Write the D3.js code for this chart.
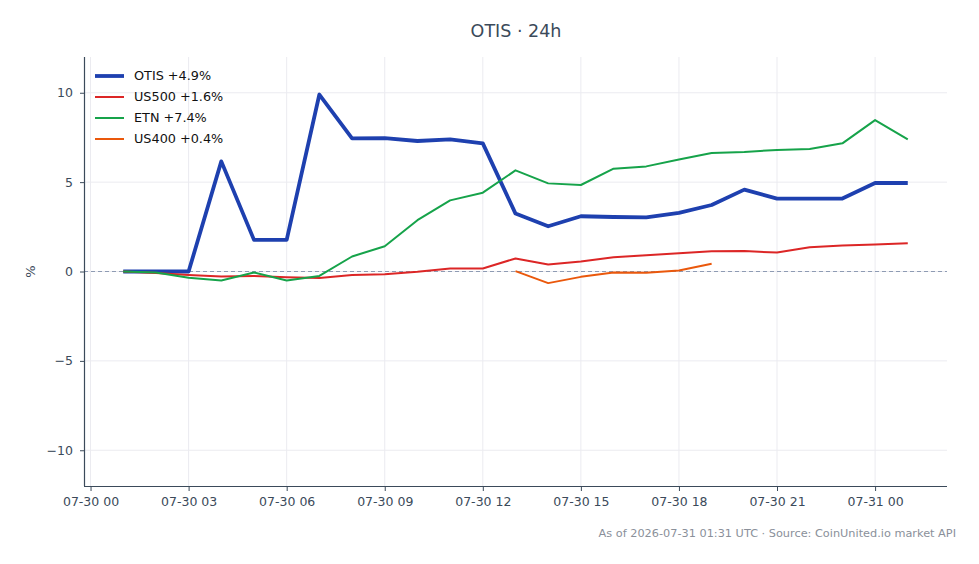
<!DOCTYPE html>
<html>
<head>
<meta charset="utf-8">
<script src="https://cdn.jsdelivr.net/npm/d3@7"></script>
<style>
  body { margin: 0; background: #fff; }
  svg { font-family: "DejaVu Sans", sans-serif; }
</style>
</head>
<body>
<svg id="chart"></svg>
<script>
// hourly points, 07-30 01:00 .. 07-31 01:00 UTC
let times = d3.range(25).map(i => new Date(Date.UTC(2026, 6, 30, 1 + i)));

let otis = [0, 0, 0, 6.16, 1.77, 1.77, 9.9, 7.45, 7.46, 7.3, 7.39, 7.17, 3.24, 2.53, 3.09, 3.05, 3.03, 3.28, 3.72, 4.58, 4.08, 4.08, 4.08, 4.95, 4.95];
let us500 = [0, -0.08, -0.2, -0.28, -0.25, -0.32, -0.36, -0.19, -0.15, -0.02, 0.17, 0.17, 0.73, 0.39, 0.56, 0.8, 0.91, 1.02, 1.13, 1.14, 1.06, 1.36, 1.45, 1.51, 1.58];
let etn = [0, -0.05, -0.35, -0.5, -0.06, -0.5, -0.25, 0.84, 1.41, 2.87, 3.98, 4.41, 5.66, 4.93, 4.84, 5.75, 5.88, 6.26, 6.63, 6.69, 6.8, 6.85, 7.17, 8.47, 7.39];
let us400 = [null, null, null, null, null, null, null, null, null, null, null, null, 0.02, -0.65, -0.3, -0.06, -0.07, 0.06, 0.43, null, null, null, null, null, null];

let seriesNames = ['OTIS +4.9%', 'US500 +1.6%', 'ETN +7.4%', 'US400 +0.4%'];
let seriesColors = ['#1e40af', '#dc2626', '#16a34a', '#ea580c'];
let seriesWidths = [3.8, 2, 2, 2];
let seriesValues = [otis, us500, etn, us400];

let yTicks = [-10, -5, 0, 5, 10];

function renderChart(svg) {
  svg = d3.select(svg).attr('width', 979).attr('height', 564);

  let left = 84, right = 947, top = 57, bottom = 486;
  let pad = 1.2 * 3600 * 1000; // 5% of the 24h span

  let x = d3
    .scaleUtc()
    .domain([+times[0] - pad, +times[times.length - 1] + pad])
    .range([left, right]);
  let y = d3.scaleLinear().domain([-12, 12]).range([bottom, top]);

  let xTicks = x.ticks(d3.utcHour.every(3));
  let axisColor = '#3b4a5a';

  // grid
  let grid = svg.append('g').attr('stroke', '#ebebf0').attr('stroke-width', 1);
  grid
    .selectAll('line.v')
    .data(xTicks)
    .enter()
    .append('line')
    .attr('x1', d => x(d))
    .attr('x2', d => x(d))
    .attr('y1', top)
    .attr('y2', bottom);
  grid
    .selectAll('line.h')
    .data(yTicks)
    .enter()
    .append('line')
    .attr('x1', left)
    .attr('x2', right)
    .attr('y1', d => y(d))
    .attr('y2', d => y(d));

  // zero line
  svg
    .append('line')
    .attr('x1', left)
    .attr('x2', right)
    .attr('y1', y(0))
    .attr('y2', y(0))
    .attr('stroke', '#8e9bb3')
    .attr('stroke-width', 1)
    .attr('stroke-dasharray', '4,3');

  // series
  let line = d3
    .line()
    .defined(d => d.v !== null)
    .x(d => x(d.t))
    .y(d => y(d.v));

  seriesValues.forEach((vals, i) => {
    svg
      .append('path')
      .datum(vals.map((v, j) => ({ t: times[j], v: v })))
      .attr('fill', 'none')
      .attr('stroke', seriesColors[i])
      .attr('stroke-width', seriesWidths[i])
      .attr('stroke-linejoin', 'round')
      .attr('d', line);
  });

  // axes
  let xAxis = svg
    .append('g')
    .attr('transform', 'translate(0,' + bottom + ')')
    .call(
      d3
        .axisBottom(x)
        .tickValues(xTicks)
        .tickFormat(d3.utcFormat('%m-%d %H'))
        .tickSizeOuter(0)
        .tickSize(5)
        .tickPadding(6)
    );
  let yAxis = svg
    .append('g')
    .attr('transform', 'translate(' + left + ',0)')
    .call(
      d3
        .axisLeft(y)
        .tickValues(yTicks)
        .tickFormat(d => (d < 0 ? '\u2212' + Math.abs(d) : d))
        .tickSizeOuter(0)
        .tickSize(4)
        .tickPadding(7)
    );
  [xAxis, yAxis].forEach(a => {
    a.select('.domain').attr('stroke', axisColor).attr('stroke-width', 1.2);
    a.selectAll('.tick line').attr('stroke', axisColor);
    a.selectAll('.tick text')
      .attr('fill', axisColor)
      .attr('font-size', 12.5)
      .attr('font-family', '"DejaVu Sans", sans-serif');
  });
  // axis lines span the full plot box
  xAxis.select('.domain').attr('d', 'M' + left + ',0.5H' + right);
  yAxis.select('.domain').attr('d', 'M0.5,' + bottom + 'V' + top);

  svg
    .append('text')
    .attr('transform', 'translate(35,' + y(0) + ') rotate(-90)')
    .attr('text-anchor', 'middle')
    .attr('fill', axisColor)
    .attr('font-size', 13)
    .text('%');

  // title
  svg
    .append('text')
    .attr('x', 516)
    .attr('y', 37)
    .attr('text-anchor', 'middle')
    .attr('fill', axisColor)
    .attr('font-size', 17.5)
    .text('OTIS \u00b7 24h');

  // legend
  let legend = svg
    .append('g')
    .selectAll('g')
    .data(seriesNames)
    .enter()
    .append('g')
    .attr('transform', (d, i) => 'translate(95,' + (76 + i * 21) + ')');
  legend
    .append('line')
    .attr('x1', 0)
    .attr('x2', 29)
    .attr('stroke', (d, i) => seriesColors[i])
    .attr('stroke-width', (d, i) => seriesWidths[i]);
  legend
    .append('text')
    .attr('x', 39)
    .attr('dy', '0.35em')
    .attr('font-size', 12.8)
    .attr('fill', '#111')
    .text(d => d);

  // footnote
  svg
    .append('text')
    .attr('x', 956)
    .attr('y', 537)
    .attr('text-anchor', 'end')
    .attr('font-size', 11.3)
    .attr('fill', '#8a909a')
    .text('As of 2026-07-31 01:31 UTC \u00b7 Source: CoinUnited.io market API');
}

renderChart(document.getElementById('chart'));
</script>
</body>
</html>
